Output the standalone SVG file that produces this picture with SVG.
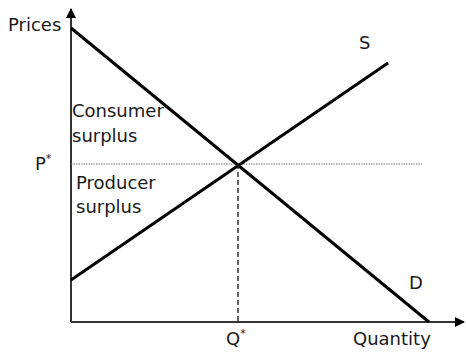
<svg xmlns="http://www.w3.org/2000/svg" width="466" height="353" viewBox="0 0 466 353">
<style>
text{font-family:"DejaVu Sans",Verdana,sans-serif;font-size:18px;fill:#1a1a1a}
.sup{font-size:11px}
.curve{stroke:#000;stroke-width:3;fill:none}
.axis{stroke:#333;stroke-width:2;fill:none}
</style>
<defs>
<marker id="ah" markerWidth="10" markerHeight="10" refX="9" refY="5" orient="auto" markerUnits="userSpaceOnUse">
<path d="M0,0 L10,5 L0,10 z" fill="#000"/>
</marker>
</defs>
<g id="axes">
<line class="axis" x1="71" y1="322" x2="71" y2="9" marker-end="url(#ah)"/>
<line class="axis" x1="71" y1="322" x2="464" y2="322" marker-end="url(#ah)"/>
</g>
<g id="connectors">
<line x1="71" y1="164" x2="422" y2="164" stroke="#777" stroke-width="1" stroke-dasharray="1.5 1"/>
<line x1="238" y1="164" x2="238" y2="322" stroke="#333" stroke-width="1.5" stroke-dasharray="5 3"/>
</g>
<g id="demand">
<line class="curve" x1="71" y1="28" x2="429" y2="322"/>
</g>
<g id="supply">
<line class="curve" x1="71" y1="280" x2="388" y2="63"/>
</g>
<g id="labels">
<text x="8" y="31">Prices</text>
<text x="359" y="49">S</text>
<text x="409" y="289">D</text>
<text x="35" y="170">P<tspan class="sup" dy="-8">*</tspan></text>
<text x="226" y="345">Q<tspan class="sup" dy="-8">*</tspan></text>
<text x="353" y="345">Quantity</text>
<text x="72" y="117">Consumer</text>
<text x="72" y="142">surplus</text>
<text x="76" y="189">Producer</text>
<text x="76" y="213">surplus</text>
</g>
</svg>
